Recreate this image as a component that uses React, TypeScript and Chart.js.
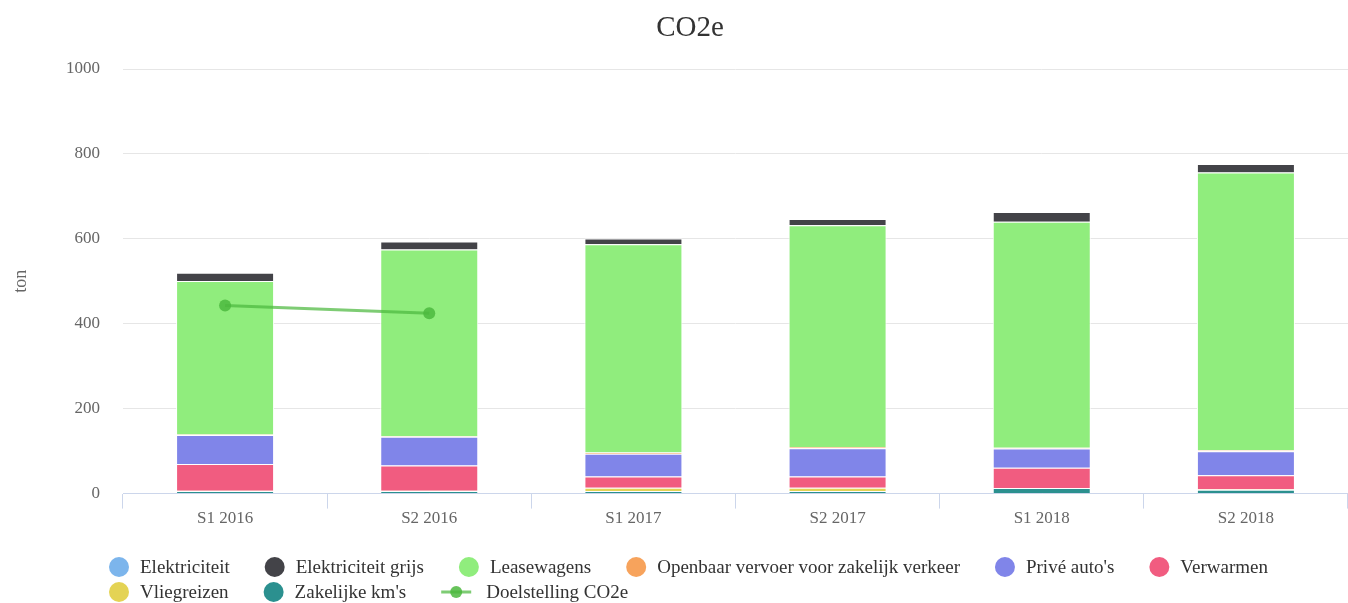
import React, { useEffect, useRef } from 'react';
import { Chart, registerables } from 'chart.js';

Chart.register(...registerables);

// ---------- data ----------
const CATEGORIES = ['S1 2016', 'S2 2016', 'S1 2017', 'S2 2017', 'S1 2018', 'S2 2018'];
const ELEKTRICITEIT = [0, 0, 0, 0, 0, 0];
const ELEKTRICITEIT_GRIJS = [19, 19, 14, 15, 23, 20];
const LEASEWAGENS = [362, 440, 490, 522, 532, 654];
const OPENBAAR_VERVOER = [1, 1, 3, 3, 2, 2];
const PRIVE_AUTOS = [68, 68, 54, 67, 45, 57];
const VERWARMEN = [63, 59, 26, 26, 48, 33];
const VLIEGREIZEN = [1, 1, 8, 8, 0, 1];
const ZAKELIJKE_KMS = [6, 6, 6, 6, 13, 9];
const DOELSTELLING = [443, 425, null, null, null, null];
const Y_TICKS = [0, 200, 400, 600, 800, 1000];

// legend order (top of stack first, as in the original)
const SERIES = [
  { label: 'Elektriciteit', data: ELEKTRICITEIT, color: '#7cb5ec' },
  { label: 'Elektriciteit grijs', data: ELEKTRICITEIT_GRIJS, color: '#434348' },
  { label: 'Leasewagens', data: LEASEWAGENS, color: '#90ed7d' },
  { label: 'Openbaar vervoer voor zakelijk verkeer', data: OPENBAAR_VERVOER, color: '#f7a35c' },
  { label: "Privé auto's", data: PRIVE_AUTOS, color: '#8085e9' },
  { label: 'Verwarmen', data: VERWARMEN, color: '#f15c80' },
  { label: 'Vliegreizen', data: VLIEGREIZEN, color: '#e4d354' },
  { label: "Zakelijke km's", data: ZAKELIJKE_KMS, color: '#2b908f' },
];
const TITLE = 'CO2e';
const TARGET_LABEL = 'Doelstelling CO2e';
const TARGET_LINE = 'rgba(76, 185, 62, 0.72)';
const TARGET_POINT = 'rgba(76, 185, 62, 0.85)';

const FONT = '"Liberation Serif", "Times New Roman", serif';

const hcDecor = {
  id: 'hcDecor',
  afterDraw(chart: any) {
    const ctx = chart.ctx as CanvasRenderingContext2D;
    ctx.save();

    // title
    ctx.font = `29px ${FONT}`;
    ctx.fillStyle = '#333333';
    ctx.textAlign = 'center';
    ctx.textBaseline = 'middle';
    ctx.fillText(TITLE, chart.width / 2 + 16, 28);

    // legend
    ctx.font = `19px ${FONT}`;
    ctx.textBaseline = 'middle';
    ctx.textAlign = 'left';
    const items = [
      ...SERIES.map((s) => ({ label: s.label, color: s.color, type: 'circle' })),
      { label: TARGET_LABEL, color: TARGET_LINE, type: 'line' },
    ];
    const startX = 109;
    const maxRight = chart.width - 40;
    const distance = 35;
    const rowH = 25;
    const firstRowY = chart.height - 36;
    let x = startX;
    let row = 0;
    items.forEach((item) => {
      const symW = item.type === 'line' ? 45 : 31;
      const w = symW + ctx.measureText(item.label).width;
      if (x !== startX && x + w > maxRight) {
        row++;
        x = startX;
      }
      const y = firstRowY + row * rowH;
      if (item.type === 'line') {
        ctx.strokeStyle = TARGET_LINE;
        ctx.lineWidth = 3;
        ctx.beginPath();
        ctx.moveTo(x, y);
        ctx.lineTo(x + 30, y);
        ctx.stroke();
        ctx.fillStyle = TARGET_POINT;
        ctx.beginPath();
        ctx.arc(x + 15, y, 6, 0, Math.PI * 2);
        ctx.fill();
      } else {
        ctx.fillStyle = item.color;
        ctx.beginPath();
        ctx.arc(x + 10, y, 10, 0, Math.PI * 2);
        ctx.fill();
      }
      ctx.fillStyle = '#333333';
      ctx.fillText(item.label, x + symW, y + 1);
      x += w + distance;
    });
    ctx.restore();
  },
};

export default function App() {
  const ref = useRef<HTMLCanvasElement>(null);

  useEffect(() => {
    document.body.style.margin = '0';
    Chart.defaults.font.family = FONT;

    const barDatasets = [...SERIES].reverse().map((s) => ({
      type: 'bar' as const,
      label: s.label,
      data: s.data,
      backgroundColor: s.color,
      borderColor: '#ffffff',
      borderWidth: { top: 1, right: 1, bottom: 0, left: 1 },
      borderSkipped: false,
      stack: 'co2',
      barPercentage: 0.48,
      categoryPercentage: 1,
      order: 0,
    }));

    const lineDataset = {
      type: 'line' as const,
      label: TARGET_LABEL,
      data: DOELSTELLING,
      borderColor: TARGET_LINE,
      backgroundColor: TARGET_POINT,
      borderWidth: 3,
      pointRadius: 6,
      pointBorderWidth: 0,
      pointBackgroundColor: TARGET_POINT,
      fill: false,
      spanGaps: false,
      stack: 'target',
      order: -1,
    };

    const chart = new Chart(ref.current!, {
      type: 'bar',
      data: {
        labels: CATEGORIES,
        datasets: [...barDatasets, lineDataset] as any,
      },
      options: {
        responsive: true,
        maintainAspectRatio: false,
        animation: false,
        events: [],
        layout: { autoPadding: false, padding: { left: 0, right: 0, top: 69, bottom: 74 } },
        plugins: {
          legend: { display: false },
          tooltip: { enabled: false },
          title: { display: false },
        },
        scales: {
          x: {
            stacked: true,
            offset: true,
            grid: {
              display: true,
              drawOnChartArea: false,
              drawTicks: true,
              tickLength: 15,
              color: '#ccd6eb',
              offset: true,
            },
            border: { display: true, color: '#ccd6eb', width: 1 },
            ticks: {
              color: '#666666',
              font: { size: 17, family: FONT },
              padding: 0,
              maxRotation: 0,
            },
          },
          y: {
            stacked: true,
            min: 0,
            max: 1000,
            afterBuildTicks: (axis: any) => {
              axis.ticks = Y_TICKS.map((v) => ({ value: v }));
            },
            afterFit: (axis: any) => {
              axis.width = 123;
            },
            grid: { color: '#e6e6e6', drawTicks: false, lineWidth: 1 },
            border: { display: false },
            ticks: {
              color: '#666666',
              font: { size: 17, family: FONT },
              padding: 23,
              callback: (v: any) => String(v),
            },
            title: {
              display: true,
              text: 'ton',
              color: '#666666',
              font: { size: 18, family: FONT },
              padding: { top: 10, bottom: 0 },
            },
          },
        },
      } as any,
      plugins: [hcDecor],
    });

    return () => chart.destroy();
  }, []);

  return (
    <div style={{ position: 'relative', width: 1348, height: 603 }}>
      <canvas ref={ref} />
    </div>
  );
}
